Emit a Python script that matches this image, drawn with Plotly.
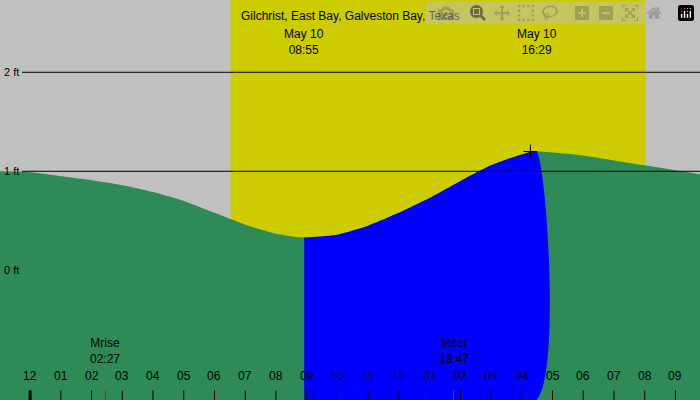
import plotly.graph_objects as go

# tide heights (ft) by hour of May 10
hours = [-1, 0, 1, 2, 3, 4, 5, 6, 7, 8, 8.92, 10, 11, 12, 13, 14, 15, 16, 16.48, 17, 18, 19, 20, 21, 21.8]
feet = [1.00, 0.99, 0.95, 0.91, 0.86, 0.79, 0.70, 0.58, 0.46, 0.37, 0.33, 0.36, 0.45, 0.58, 0.73,
        0.90, 1.06, 1.17, 1.20, 1.19, 1.16, 1.11, 1.06, 1.01, 0.97]
low_h, high_h = 8.92, 16.48
high_ft = 1.20
sunrise, sunset = 6.52, 20.03
moonrise, moonset = 2.45, 13.78
tick_hours = list(range(-1, 22))
tick_labels = ["11", "12"] + ["%02d" % h for h in range(1, 13)] + ["%02d" % h for h in range(1, 10)]
ref_lines = [1, 2]

X0, X1 = -0.98, 21.8
Y0, Y1 = -1.31, 2.73

fig = go.Figure()

# green tide area
gx = [X0] + hours + [X1]
gy = [feet[0]] + feet + [feet[-1]]
fig.add_trace(go.Scatter(x=gx + [X1, X0], y=gy + [Y0, Y0], fill="toself", fillcolor="#2e8b57",
                         line=dict(width=0, shape="spline", smoothing=0.6), mode="lines", hoverinfo="skip"))
# blue rising-tide section
bx = [h for h in hours if low_h <= h <= high_h]
by = [f for h, f in zip(hours, feet) if low_h <= h <= high_h]
fig.add_trace(go.Scatter(x=bx + [high_h, low_h], y=by + [Y0, Y0], fill="toself", fillcolor="#0000ff",
                         line=dict(width=0, shape="spline", smoothing=0.6), mode="lines", hoverinfo="skip"))
# high tide marker
fig.add_trace(go.Scatter(x=[high_h - 0.2], y=[high_ft], mode="markers",
                         marker=dict(symbol="cross-thin", size=10, line=dict(color="black", width=1))))
# bottom tick marks
fig.add_trace(go.Scatter(x=tick_hours[1:], y=[Y0 + 0.04] * (len(tick_hours) - 1), mode="markers",
                         marker=dict(symbol="line-ns", size=8, line=dict(color="black", width=1))))
fig.add_trace(go.Scatter(x=[0], y=[Y0 + 0.04], mode="markers",
                         marker=dict(symbol="line-ns", size=8, line=dict(color="black", width=3))))
fig.add_trace(go.Scatter(x=[moonrise, moonset], y=[Y0 + 0.04] * 2, mode="markers",
                         marker=dict(symbol="line-ns", size=8, line=dict(color="red", width=1))))

shapes = [dict(type="rect", xref="x", yref="paper", x0=sunrise, x1=sunset, y0=0, y1=1,
               fillcolor="#cccc00", line=dict(width=0), layer="below")]
for r in ref_lines:
    shapes.append(dict(type="line", xref="paper", yref="y", x0=22 / 700, x1=1, y0=r, y1=r,
                       line=dict(color="black", width=1), layer="above"))

ann = []
for r in ref_lines + [0]:
    ann.append(dict(x=0.003, xref="paper", y=r, yref="y", text="%d ft" % r, showarrow=False,
                    xanchor="left", font=dict(size=11)))
for h, lab in zip(tick_hours, tick_labels):
    ann.append(dict(x=h, y=15 / 400, yref="paper", text=lab, showarrow=False, font=dict(size=12)))
ann.append(dict(x=moonrise, y=32 / 400, yref="paper", text="Mrise<br>02:27", showarrow=False,
                font=dict(size=12)))
ann.append(dict(x=moonset, y=32 / 400, yref="paper", text="Mset<br>13:47", showarrow=False,
                font=dict(size=12)))
ann.append(dict(x=low_h, y=1 - 25 / 400, yref="paper", text="May 10<br>08:55", showarrow=False,
                font=dict(size=12)))
ann.append(dict(x=high_h, y=1 - 25 / 400, yref="paper", text="May 10<br>16:29", showarrow=False,
                font=dict(size=12)))
ann.append(dict(x=0.5, xref="paper", y=1 - 7 / 400, yref="paper", text="Gilchrist, East Bay, Galveston Bay, Texas",
                showarrow=False, font=dict(size=12)))

fig.update_layout(width=700, height=400, margin=dict(l=0, r=0, t=0, b=0), showlegend=False,
                  plot_bgcolor="#c0c0c0", paper_bgcolor="#c0c0c0",
                  font=dict(family="Liberation Sans, Arial", color="black"),
                  xaxis=dict(range=[X0, X1], visible=False), yaxis=dict(range=[Y0, Y1], visible=False),
                  shapes=shapes, annotations=ann)
fig.write_html("out.html")

# drop the default page margin so the chart fills the window
with open("out.html") as f:
    page = f.read()
page = page.replace("<head>", "<head><style>body{margin:0;overflow:hidden}</style>", 1)
with open("out.html", "w") as f:
    f.write(page)
